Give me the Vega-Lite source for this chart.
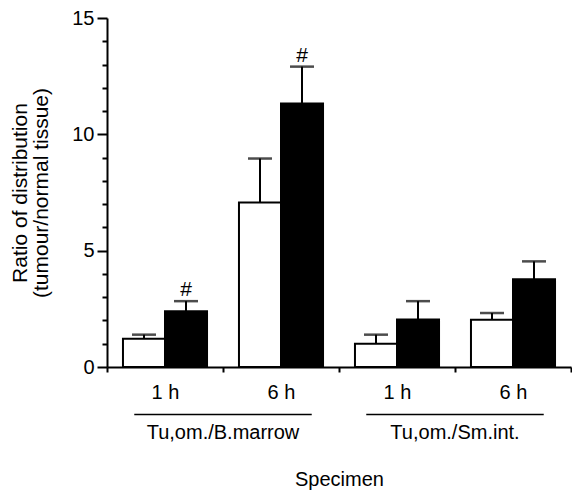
{
  "$schema": "https://vega.github.io/schema/vega-lite/v6.json",
  "width": 464,
  "height": 349,
  "autosize": "none",
  "padding": {"left": 107, "top": 18, "right": 1, "bottom": 128},
  "background": "white",
  "config": {
    "view": {"stroke": null},
    "font": "Liberation Sans",
    "axis": {"grid": false, "domainColor": "black", "tickColor": "black", "labelColor": "black", "titleColor": "black", "domainWidth": 2, "tickWidth": 2, "titleFontWeight": "normal"},
    "axisY": {"labelOverlap": false, "labelFontSize": 20, "labelPadding": 3, "titleFontSize": 21, "titleLineHeight": 21, "titlePadding": 20}
  },
  "datasets": {
    "bars": [
      {"cat": "1 h|B.marrow", "cond": "open", "value": 1.21, "upper": 1.39, "sig": ""},
      {"cat": "1 h|B.marrow", "cond": "filled", "value": 2.40, "upper": 2.83, "sig": "#"},
      {"cat": "6 h|B.marrow", "cond": "open", "value": 7.07, "upper": 8.96, "sig": ""},
      {"cat": "6 h|B.marrow", "cond": "filled", "value": 11.33, "upper": 12.91, "sig": "#"},
      {"cat": "1 h|Sm.int.", "cond": "open", "value": 1.00, "upper": 1.39, "sig": ""},
      {"cat": "1 h|Sm.int.", "cond": "filled", "value": 2.04, "upper": 2.83, "sig": ""},
      {"cat": "6 h|Sm.int.", "cond": "open", "value": 2.03, "upper": 2.32, "sig": ""},
      {"cat": "6 h|Sm.int.", "cond": "filled", "value": 3.77, "upper": 4.54, "sig": ""}
    ],
    "groups": [
      {"group": "Tu,om./B.marrow"},
      {"group": "Tu,om./Sm.int."}
    ]
  },
  "layer": [
    {
      "data": {"name": "bars"},
      "layer": [
        {
          "mark": {"type": "bar", "stroke": "black", "strokeWidth": 2},
          "encoding": {
            "x": {"field": "cat", "type": "nominal", "sort": null,
              "scale": {"paddingInner": 0, "paddingOuter": 0},
              "axis": {"title": "Specimen", "labelExpr": "split(datum.label, '|')[0]", "labelAngle": 0, "tickBand": "extent", "tickSize": 5, "labelFontSize": 20, "labelPadding": 10, "titleFontSize": 20, "titlePadding": 67}},
            "xOffset": {"field": "cond", "type": "nominal", "sort": ["open", "filled"], "scale": {"paddingInner": 0, "paddingOuter": 0.38}},
            "y": {"field": "value", "type": "quantitative",
              "scale": {"domain": [0, 15], "nice": false},
              "axis": {"title": ["Ratio of distribution", "(tumour/normal tissue)"], "values": [0,1,2,3,4,5,6,7,8,9,10,11,12,13,14,15], "labelExpr": "datum.value % 5 === 0 ? datum.label : ''", "labelOverlap": false, "tickSize": {"condition": {"test": "datum.value % 5 === 0", "value": 10}, "value": 5}}},
            "fill": {"field": "cond", "type": "nominal", "scale": {"domain": ["open", "filled"], "range": ["white", "black"]}, "legend": null}
          }
        },
        {
          "mark": {"type": "rule", "color": "black", "strokeWidth": 2},
          "encoding": {
            "x": {"field": "cat", "type": "nominal", "sort": null,
              "axis": {"title": "Specimen", "labelExpr": "split(datum.label, '|')[0]", "labelAngle": 0, "tickBand": "extent", "tickSize": 5, "labelFontSize": 20, "labelPadding": 10, "titleFontSize": 20, "titlePadding": 67}},
            "xOffset": {"field": "cond", "type": "nominal", "sort": ["open", "filled"]},
            "y": {"field": "value", "type": "quantitative",
              "axis": {"title": ["Ratio of distribution", "(tumour/normal tissue)"], "values": [0,1,2,3,4,5,6,7,8,9,10,11,12,13,14,15], "labelExpr": "datum.value % 5 === 0 ? datum.label : ''", "labelOverlap": false, "tickSize": {"condition": {"test": "datum.value % 5 === 0", "value": 10}, "value": 5}}},
            "y2": {"field": "upper"}
          }
        },
        {
          "mark": {"type": "tick", "color": "black", "size": 24, "thickness": 2.5, "orient": "horizontal"},
          "encoding": {
            "x": {"field": "cat", "type": "nominal", "sort": null,
              "axis": {"title": "Specimen", "labelExpr": "split(datum.label, '|')[0]", "labelAngle": 0, "tickBand": "extent", "tickSize": 5, "labelFontSize": 20, "labelPadding": 10, "titleFontSize": 20, "titlePadding": 67}},
            "xOffset": {"field": "cond", "type": "nominal", "sort": ["open", "filled"]},
            "y": {"field": "upper", "type": "quantitative",
              "axis": {"title": ["Ratio of distribution", "(tumour/normal tissue)"], "values": [0,1,2,3,4,5,6,7,8,9,10,11,12,13,14,15], "labelExpr": "datum.value % 5 === 0 ? datum.label : ''", "labelOverlap": false, "tickSize": {"condition": {"test": "datum.value % 5 === 0", "value": 10}, "value": 5}}}
          }
        },
        {
          "transform": [{"filter": "datum.sig !== ''"}],
          "mark": {"type": "text", "color": "black", "fontSize": 21, "baseline": "bottom", "dy": -1},
          "encoding": {
            "x": {"field": "cat", "type": "nominal", "sort": null,
              "axis": {"title": "Specimen", "labelExpr": "split(datum.label, '|')[0]", "labelAngle": 0, "tickBand": "extent", "tickSize": 5, "labelFontSize": 20, "labelPadding": 10, "titleFontSize": 20, "titlePadding": 67}},
            "xOffset": {"field": "cond", "type": "nominal", "sort": ["open", "filled"]},
            "y": {"field": "upper", "type": "quantitative",
              "axis": {"title": ["Ratio of distribution", "(tumour/normal tissue)"], "values": [0,1,2,3,4,5,6,7,8,9,10,11,12,13,14,15], "labelExpr": "datum.value % 5 === 0 ? datum.label : ''", "labelOverlap": false, "tickSize": {"condition": {"test": "datum.value % 5 === 0", "value": 10}, "value": 5}}},
            "text": {"field": "sig"}
          }
        }
      ]
    },
    {
      "data": {"name": "groups"},
      "layer": [
        {
          "mark": {"type": "bar", "color": "black", "width": {"band": 0.765}},
          "encoding": {
            "x": {"field": "group", "type": "nominal", "sort": null, "scale": {"paddingInner": 0, "paddingOuter": 0}, "axis": null},
            "y": {"datum": -2.01, "type": "quantitative",
              "axis": {"title": ["Ratio of distribution", "(tumour/normal tissue)"], "values": [0,1,2,3,4,5,6,7,8,9,10,11,12,13,14,15], "labelExpr": "datum.value % 5 === 0 ? datum.label : ''", "labelOverlap": false, "tickSize": {"condition": {"test": "datum.value % 5 === 0", "value": 10}, "value": 5}}},
            "y2": {"datum": -2.07}
          }
        },
        {
          "mark": {"type": "text", "color": "black", "fontSize": 20, "baseline": "alphabetic"},
          "encoding": {
            "x": {"field": "group", "type": "nominal", "sort": null, "axis": null},
            "y": {"datum": -3.08, "type": "quantitative",
              "axis": {"title": ["Ratio of distribution", "(tumour/normal tissue)"], "values": [0,1,2,3,4,5,6,7,8,9,10,11,12,13,14,15], "labelExpr": "datum.value % 5 === 0 ? datum.label : ''", "labelOverlap": false, "tickSize": {"condition": {"test": "datum.value % 5 === 0", "value": 10}, "value": 5}}},
            "text": {"field": "group"}
          }
        }
      ]
    }
  ],
  "resolve": {"scale": {"x": "independent"}, "axis": {"x": "independent"}}
}
